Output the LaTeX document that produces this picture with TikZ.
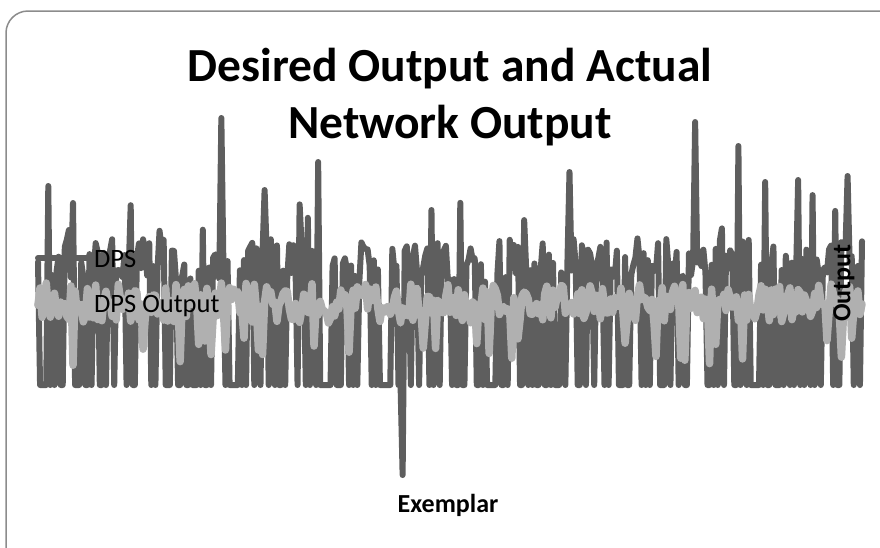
\documentclass[tikz,border=0pt]{standalone}
\usepackage{fontspec}
\setmainfont{Carlito}
\begin{document}
\begin{tikzpicture}[x=1pt,y=-1pt,
  frame/.style={draw=black!45,line width=1.5pt,rounded corners=22pt},
  darkser/.style={draw=black!63,line width=6pt,line cap=round,line join=round},
  lightser/.style={draw=black!31,line width=7.5pt,line cap=round,line join=round},
  legtext/.style={anchor=west,inner sep=0pt,font=\fontsize{26.5}{30}\selectfont},
  axtext/.style={inner sep=0pt,font=\bfseries\fontsize{26}{30}\selectfont},
  titletext/.style={align=center,inner sep=0pt,font=\bfseries\fontsize{47.5}{57}\selectfont}]
\useasboundingbox (0,0) rectangle (880,547);
\draw[frame] (6,11) rectangle (900,570);
\pgfmathsetseed{11}
% dark series (DPS)
\draw[darkser] (38,262) \foreach \i in {1,...,400}{
  -- ({38+2.06*\i},{(\i==5) ? 186 : ((\i==89) ? 118 : ((\i==110) ? 190 : ((\i==136) ? 162 : ((\i==177) ? 475 : ((\i==191) ? 210 : ((\i==258) ? 172 : ((\i==319) ? 122 : ((\i==340) ? 146 : ((\i==353) ? 182 : ((\i==369) ? 180 : ((\i==393) ? 176 : ((rnd<0.40) ? 385 : ((rnd<0.07) ? (195+45*rnd) : (260+22*rand))))))))))))))})
};
% light series (DPS Output)
\draw[lightser] (38,305) \foreach \i in {1,...,400}{
  -- ({38+2.06*\i},{(rnd<0.08) ? (338+28*rnd) : (303+20*rand)})
};
% legend
\coordinate (l1a) at (38,258);
\coordinate (l1b) at (88,258);
\coordinate (l2a) at (38,305);
\coordinate (l2b) at (88,305);
\draw[darkser] (l1a) -- (l1b);
\draw[lightser] (l2a) -- (l2b);
\node[legtext] (leg1) at (94,259) {DPS};
\node[legtext] (leg2) at (94,306) {DPS Output};
% titles and axis labels
\node[titletext] (title) at (450,97) {Desired Output and Actual\\Network Output};
\node[axtext,rotate=90] (ylab) at (844,283) {Output};
\node[axtext] (xlab) at (448,505) {Exemplar};
\end{tikzpicture}
\end{document}
